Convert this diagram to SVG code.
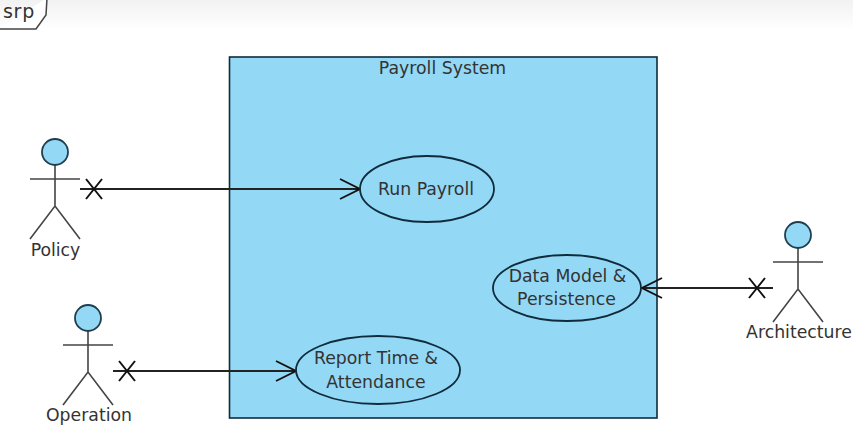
<svg xmlns="http://www.w3.org/2000/svg" width="853" height="437" viewBox="0 0 853 437">
<defs>
<linearGradient id="band" x1="0" y1="0" x2="0" y2="1"><stop offset="0" stop-color="#f2f2f2"/><stop offset="1" stop-color="#ffffff"/></linearGradient>
<g id="figure" fill="none" stroke="#444" stroke-width="1.6">
<path d="M0 13V54M-25 27H25M-25 87L0 54L25 87"/>
<circle cx="0" cy="0" r="13" fill="#93d8f5" stroke="#1f3f4f" stroke-width="1.8"/>
</g>
<marker id="open" viewBox="0 0 24 24" refX="21" refY="12" markerWidth="24" markerHeight="24" markerUnits="userSpaceOnUse" orient="auto"><path d="M1 2L21 12L1 22" fill="none" stroke="#111" stroke-width="1.9"/></marker>
<marker id="cross" viewBox="0 0 24 24" refX="12" refY="12" markerWidth="24" markerHeight="24" markerUnits="userSpaceOnUse" orient="auto"><path d="M4 2L20 22M4 22L20 2" fill="none" stroke="#111" stroke-width="2"/></marker>
</defs>
<style>
text{font-family:"DejaVu Sans","Liberation Sans",sans-serif;font-size:17.3px;fill:#333;text-anchor:middle}
.uc{fill:#93d8f5;stroke:#0f2b3c;stroke-width:1.8}
.conn{fill:none;stroke:#222;stroke-width:1.9}
</style>
<rect width="853" height="30" fill="url(#band)"/>
<g id="frame-tag">
<path d="M-2 29H36L46 15L47 -2" fill="#fff" stroke="#444" stroke-width="1.5"/>
<text x="19" y="18" style="font-size:19px;letter-spacing:0.8px">srp</text>
</g>
<g id="system">
<rect x="229.500" y="57" width="427.500" height="361" fill="#93d8f5" stroke="#0f2b3c" stroke-width="1.600"/>
<text x="442.500" y="74">Payroll System</text>
</g>
<g id="connectors">
<path class="conn" d="M80 189H360" marker-end="url(#open)"/>
<path class="conn" d="M94 189h0.010" marker-end="url(#cross)"/>
<path class="conn" d="M113 371H296" marker-end="url(#open)"/>
<path class="conn" d="M127 371h0.010" marker-end="url(#cross)"/>
<path class="conn" d="M773 288H642" marker-end="url(#open)"/>
<path class="conn" d="M757 288h0.010" marker-end="url(#cross)"/>
</g>
<g id="run-payroll">
<ellipse class="uc" cx="427" cy="189" rx="67" ry="33"/>
<text x="426" y="195">Run Payroll</text>
</g>
<g id="data-model">
<ellipse class="uc" cx="567" cy="288" rx="74" ry="33"/>
<text x="567.500" y="282">Data Model &amp;</text>
<text x="566.500" y="305">Persistence</text>
</g>
<g id="report-time">
<ellipse class="uc" cx="378" cy="370" rx="82" ry="34"/>
<text x="376" y="364">Report Time &amp;</text>
<text x="376" y="388">Attendance</text>
</g>
<g id="policy"><use href="#figure" x="55" y="152"/><text x="55.500" y="256">Policy</text></g>
<g id="operation"><use href="#figure" x="88" y="318"/><text x="89" y="421">Operation</text></g>
<g id="architecture"><use href="#figure" x="798" y="235"/><text x="799" y="338">Architecture</text></g>
</svg>
